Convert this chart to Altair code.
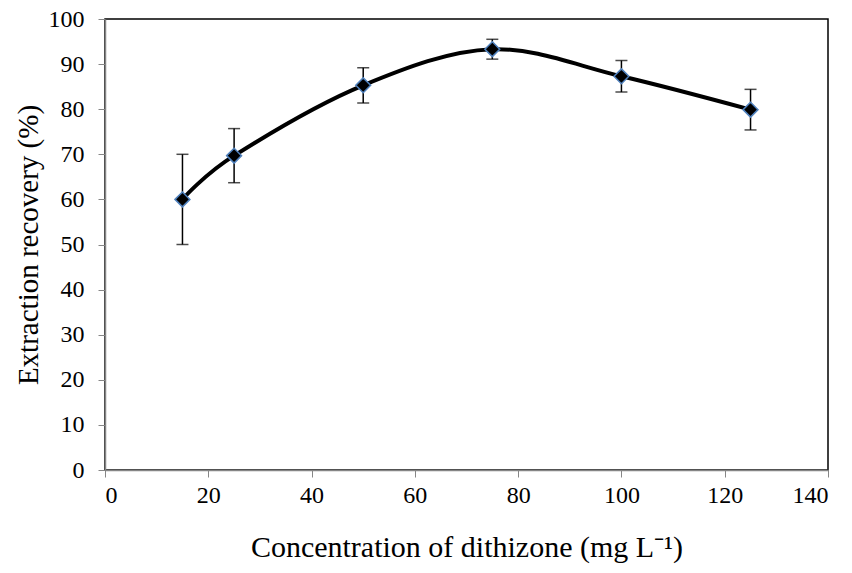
import altair as alt
import pandas as pd

conc = [15, 25, 50, 75, 100, 125]
recovery = [60.0, 69.7, 85.3, 93.3, 87.3, 79.9]
err = [10.0, 6.0, 3.9, 2.2, 3.5, 4.5]

df = pd.DataFrame({"x": conc, "y": recovery, "e": err})
df["lo"] = df["y"] - df["e"]
df["hi"] = df["y"] + df["e"]

FONT = "Liberation Serif"
xs = alt.Scale(domain=[0, 140], nice=False, zero=False)
ys = alt.Scale(domain=[0, 100], nice=False)

xaxis = alt.Axis(values=list(range(0, 141, 20)), title="Concentration of dithizone (mg L\u207b\u00b9)",
                 labelPadding=6, titlePadding=25, titleFontSize=30)
yaxis = alt.Axis(values=list(range(0, 101, 10)), title="Extraction recovery (%)",
                 labelPadding=14, titlePadding=5, titleFontSize=29)

base = alt.Chart(df)

line = base.mark_line(color="black", strokeWidth=4, interpolate="cardinal").encode(
    x=alt.X("x:Q", scale=xs, axis=xaxis),
    y=alt.Y("y:Q", scale=ys, axis=yaxis),
)
rules = base.mark_rule(color="black", strokeWidth=1.5).encode(
    x=alt.X("x:Q", scale=xs, axis=xaxis), y=alt.Y("lo:Q", scale=ys, axis=yaxis), y2="hi:Q")
cap_hi = base.mark_tick(color="black", thickness=1.5, size=12, orient="horizontal").encode(
    x=alt.X("x:Q", scale=xs, axis=xaxis), y=alt.Y("hi:Q", scale=ys, axis=yaxis))
cap_lo = base.mark_tick(color="black", thickness=1.5, size=12, orient="horizontal").encode(
    x=alt.X("x:Q", scale=xs, axis=xaxis), y=alt.Y("lo:Q", scale=ys, axis=yaxis))
pts = base.mark_point(shape="diamond", filled=True, fill="black", stroke="#4F81BD",
                      strokeWidth=1.5, size=220, opacity=1).encode(
    x=alt.X("x:Q", scale=xs, axis=xaxis), y=alt.Y("y:Q", scale=ys, axis=yaxis))

chart = alt.layer(line, rules, cap_hi, cap_lo, pts).properties(
    width=723, height=451,
    background="white",
    autosize=alt.AutoSizeParams(type="none"),
    padding={"left": 97, "top": 11, "right": 10, "bottom": 95},
).configure_view(stroke="black", strokeWidth=1.5).configure_axis(
    grid=False, domainColor="#868686", domainWidth=1.5, tickColor="#868686", tickSize=7,
    labelFont=FONT, labelFontSize=24, labelColor="black",
    titleFont=FONT, titleFontWeight="normal", titleColor="black",
)

chart.save("out.html", embed_options={"renderer": "svg", "actions": False})
